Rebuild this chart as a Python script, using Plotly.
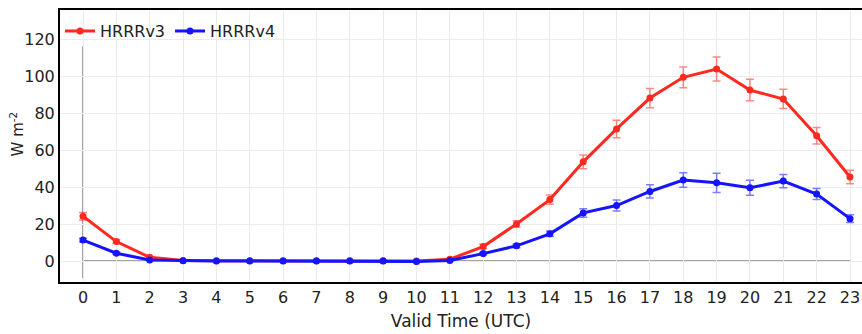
import plotly.graph_objects as go

hours = list(range(24))
tick_labels = [str(h) for h in hours]

# Mean downward flux per valid hour and its error half-widths
hrrr_v3 = [24.2, 10.5, 2.0, 0.3, 0.1, 0.1, 0.1, 0.1, 0.1, 0.1, 0.0, 1.0,
           7.8, 20.0, 33.2, 53.6, 71.4, 88.1, 99.3, 103.8, 92.4, 87.6, 67.7, 45.4]
hrrr_v3_err = [2.0, 1.0, 0.5, 0.2, 0.1, 0.1, 0.1, 0.1, 0.1, 0.1, 0.1, 0.3,
               1.2, 1.8, 2.5, 3.7, 4.7, 5.2, 5.6, 6.5, 5.8, 5.2, 4.5, 3.6]

hrrr_v4 = [11.3, 4.2, 0.6, 0.1, 0.0, 0.0, 0.0, 0.0, 0.0, 0.0, -0.3, 0.3,
           4.0, 8.2, 14.7, 26.0, 30.0, 37.6, 43.8, 42.3, 39.6, 43.2, 36.2, 22.9]
hrrr_v4_err = [1.0, 0.5, 0.2, 0.1, 0.0, 0.0, 0.0, 0.0, 0.0, 0.0, 0.1, 0.2,
               0.8, 1.0, 1.5, 2.3, 3.0, 3.6, 3.9, 5.2, 4.1, 3.6, 3.0, 2.1]

series = [
    ("HRRRv3", hrrr_v3, hrrr_v3_err, "#ff2a1f", "rgba(255,60,50,0.6)"),
    ("HRRRv4", hrrr_v4, hrrr_v4_err, "#1414ff", "rgba(40,40,255,0.6)"),
]

fig = go.Figure()
for name, vals, errs, color, err_color in series:
    fig.add_trace(go.Scatter(
        x=hours, y=vals, name=name, mode="lines+markers",
        line=dict(color=color, width=3),
        marker=dict(color=color, size=7),
        error_y=dict(type="data", array=errs, visible=True,
                     color=err_color, thickness=1.5, width=4),
    ))

# Reference lines through the origin
fig.add_shape(type="line", x0=0, x1=0, y0=-9.2, y1=116,
              line=dict(color="#444444", width=1), layer="below")
fig.add_shape(type="line", x0=0, x1=23, y0=0, y1=0,
              line=dict(color="#444444", width=1), layer="below")

font = dict(family="DejaVu Sans, Verdana, sans-serif", size=16, color="#222222")

# Y-axis title as a rotated annotation
fig.add_annotation(text="W m<sup>-2</sup>", textangle=-90,
                   xref="paper", yref="paper", x=-0.054, y=0.545,
                   xanchor="center", yanchor="middle", showarrow=False,
                   font=dict(size=15))

fig.update_layout(
    width=862, height=334,
    margin=dict(l=60, r=0, t=10, b=52),
    paper_bgcolor="white", plot_bgcolor="white",
    font=font,
    showlegend=True,
    legend=dict(orientation="h", x=0.0, y=0.985, xanchor="left", yanchor="top",
                bgcolor="rgba(255,255,255,0)", font=dict(size=16),
                itemwidth=30, tracegroupgap=0),
    xaxis=dict(
        range=[-0.69, 23.36], tickmode="array", tickvals=hours, ticktext=tick_labels,
        showgrid=True, gridcolor="#ececec", gridwidth=1,
        zeroline=False, showline=True, linecolor="black", linewidth=2,
        mirror=True, ticks="",
        title=dict(text="Valid Time (UTC)", standoff=9, font=dict(size=17)),
    ),
    yaxis=dict(
        range=[-11.35, 135.7], tickvals=[0, 20, 40, 60, 80, 100, 120],
        showgrid=True, gridcolor="#ececec", gridwidth=1,
        zeroline=False, showline=True, linecolor="black", linewidth=2,
        mirror=False, ticks="",
    ),
)

fig.write_html("out.html")
